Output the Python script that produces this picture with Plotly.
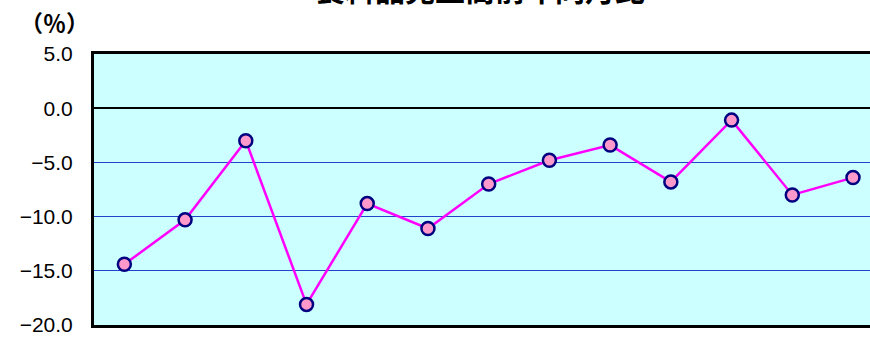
import plotly.graph_objects as go

# Monthly year-on-year change (%), 13 consecutive months
months = ["1", "2", "3", "4", "5", "6", "7", "8", "9", "10", "11", "12", "13"]
yoy_change = [-14.4, -10.3, -3.0, -18.1, -8.8, -11.1, -7.0, -4.8, -3.4, -6.8, -1.1, -8.0, -6.4]
y_ticks = [5.0, 0.0, -5.0, -10.0, -15.0, -20.0]
y_tick_labels = ["5.0", "0.0", "−5.0", "−10.0", "−15.0", "−20.0"]
title_text = "食料品売上高前年同月比"
unit_text = "（％）"

W, H = 870, 337
left, top, bottom = 94, 54, 12
plot_w = W - left
plot_h = H - top - bottom

fig = go.Figure()
fig.add_trace(go.Scatter(
    x=list(range(len(months))), y=yoy_change, mode="lines+markers",
    line=dict(color="#FF00FF", width=2.5),
    marker=dict(size=13, color="#FF99CC", line=dict(color="#000080", width=2.5)),
    cliponaxis=False, showlegend=False,
))

fig.update_layout(
    width=W, height=H,
    margin=dict(l=left, r=0, t=top, b=bottom, pad=0),
    paper_bgcolor="white", plot_bgcolor="#CCFFFF",
    font=dict(family="Liberation Sans, Arial, sans-serif", size=21, color="black"),
)
fig.update_xaxes(
    range=[-0.5, 12.28], showticklabels=False, showgrid=False, zeroline=False,
    showline=True, linecolor="black", linewidth=3, mirror=True, ticks="",
)
fig.update_yaxes(
    range=[-20, 5], tickvals=y_ticks, ticktext=y_tick_labels,
    showgrid=True, gridcolor="#2244CC", gridwidth=1,
    zeroline=True, zerolinecolor="black", zerolinewidth=2,
    showline=True, linecolor="black", linewidth=3, ticks="", ticklabelstandoff=14,
)

fig.add_annotation(
    text=title_text, xref="paper", yref="paper",
    x=(480 - left) / plot_w, y=1 + (top - 12) / plot_h,
    xanchor="center", yanchor="bottom", showarrow=False,
    font=dict(family="Noto Sans CJK JP", size=30, color="black", weight="bold"),
)
fig.add_annotation(
    text=unit_text, xref="paper", yref="paper",
    x=(18 - left) / plot_w, y=1 + (top - 22) / plot_h,
    xanchor="left", yanchor="middle", showarrow=False,
    font=dict(family="Noto Sans CJK JP", size=23, color="black", weight="bold"),
)

fig.write_html("out.html")
